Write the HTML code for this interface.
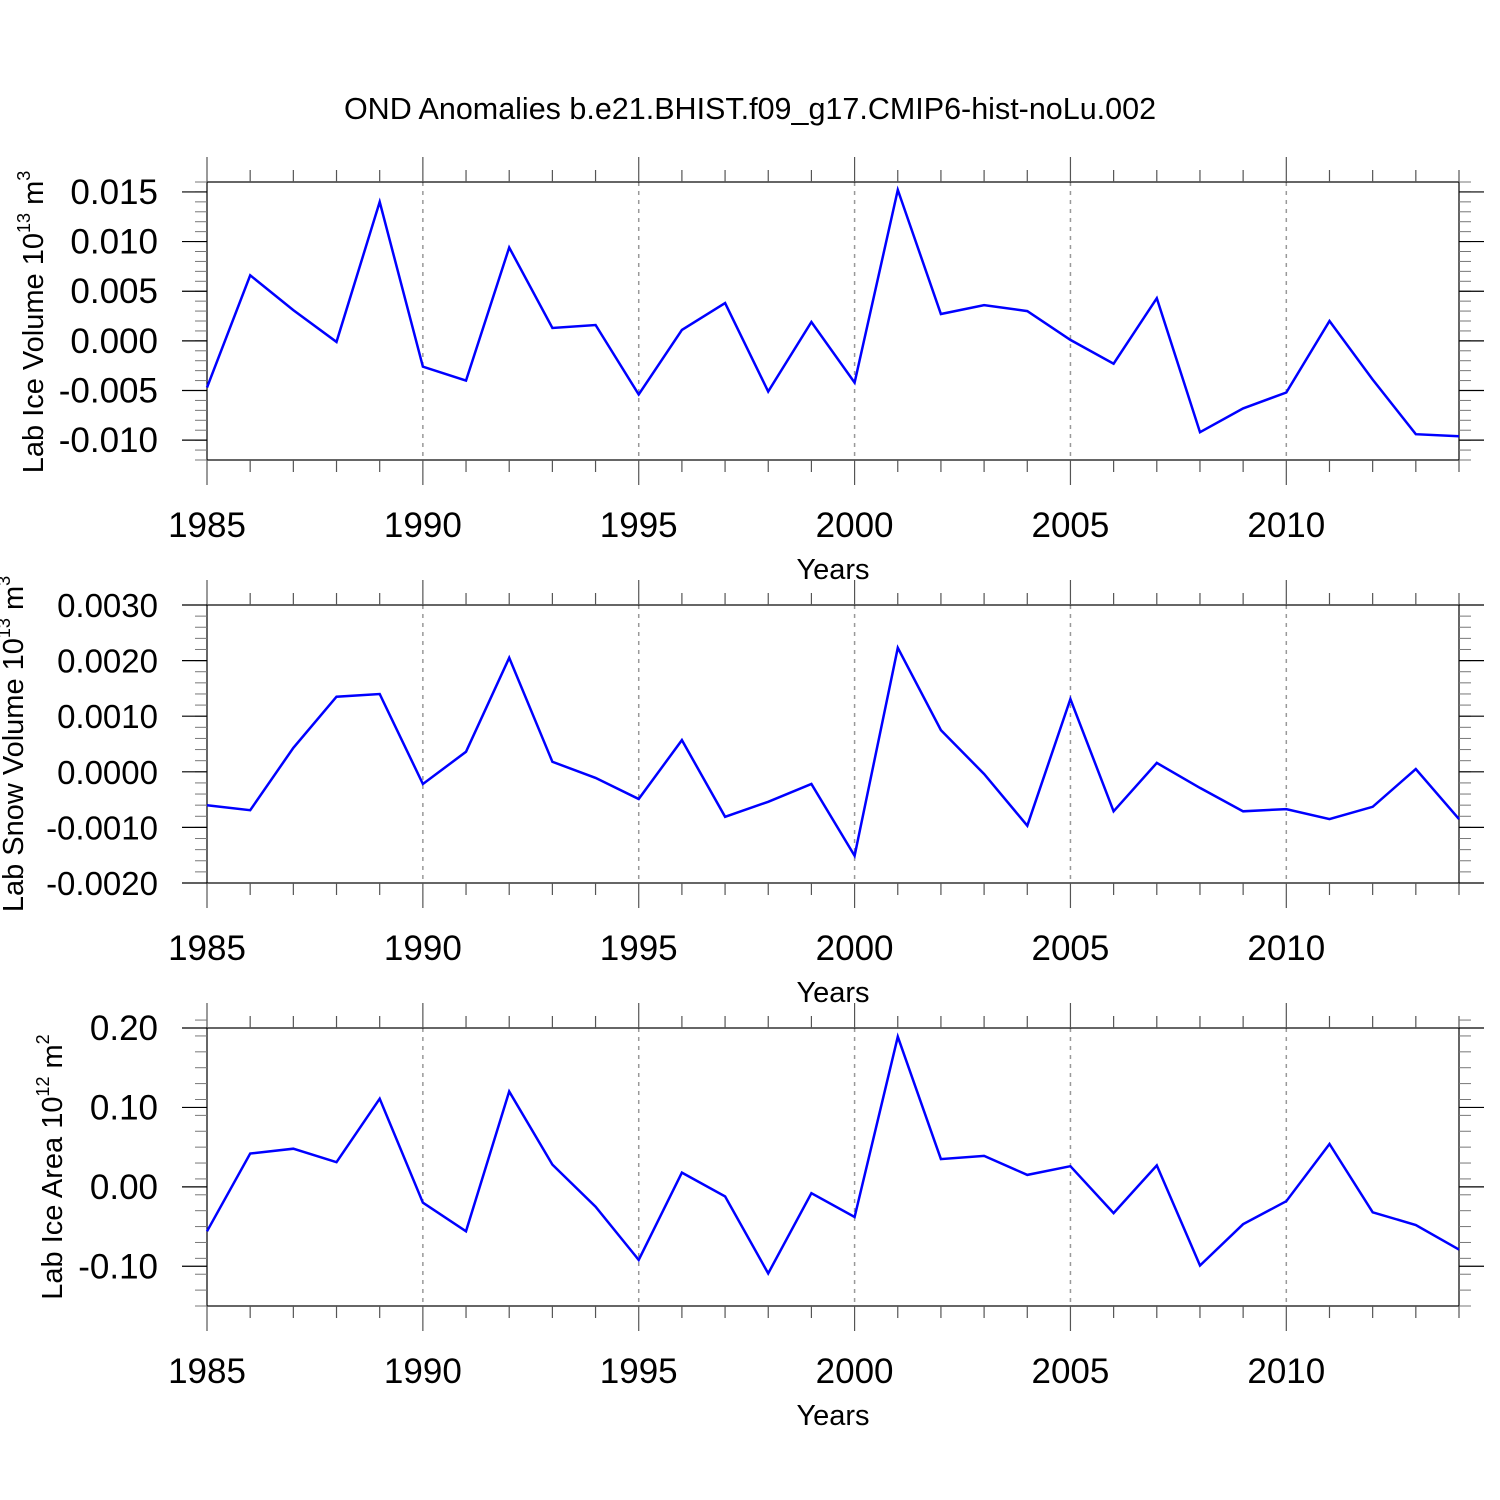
<!DOCTYPE html>
<html><head><meta charset="utf-8"><style>
html,body{margin:0;padding:0;background:#fff;}
svg{display:block;font-family:"Liberation Sans",sans-serif;}
</style></head><body>
<svg id="chart" width="1500" height="1500" viewBox="0 0 1500 1500" xmlns="http://www.w3.org/2000/svg">
<text x="750" y="119" font-size="30.5" text-anchor="middle">OND Anomalies b.e21.BHIST.f09_g17.CMIP6-hist-noLu.002</text>
</svg>
<script>
const years = [1985,1986,1987,1988,1989,1990,1991,1992,1993,1994,1995,1996,1997,1998,1999,2000,2001,2002,2003,2004,2005,2006,2007,2008,2009,2010,2011,2012,2013,2014];
const iceVolume = [-0.0047,0.0066,0.0031,-0.0001,0.0140,-0.0026,-0.0040,0.0094,0.0013,0.0016,-0.0054,0.0011,0.0038,-0.0051,0.0019,-0.0042,0.0152,0.0027,0.0036,0.0030,0.0001,-0.0023,0.0043,-0.0092,-0.0068,-0.0052,0.0020,-0.0039,-0.0094,-0.0096];
const snowVolume = [-0.00060,-0.00069,0.00043,0.00135,0.00140,-0.00022,0.00036,0.00205,0.00018,-0.00011,-0.00049,0.00057,-0.00081,-0.00054,-0.00022,-0.00151,0.00223,0.00075,-0.00004,-0.00097,0.00131,-0.00071,0.00016,-0.00029,-0.00071,-0.00067,-0.00085,-0.00063,0.00005,-0.00085];
const iceArea = [-0.056,0.042,0.048,0.031,0.111,-0.020,-0.056,0.120,0.028,-0.025,-0.092,0.018,-0.012,-0.109,-0.008,-0.038,0.189,0.035,0.039,0.015,0.026,-0.033,0.027,-0.099,-0.047,-0.018,0.054,-0.032,-0.048,-0.079];
const xTickYears = [1985,1990,1995,2000,2005,2010];
const iceVolTicks = [0.015,0.010,0.005,0.000,-0.005,-0.010];
const iceVolLabels = ["0.015","0.010","0.005","0.000","-0.005","-0.010"];
const snowTicks = [0.003,0.002,0.001,0.000,-0.001,-0.002];
const snowLabels = ["0.0030","0.0020","0.0010","0.0000","-0.0010","-0.0020"];
const areaTicks = [0.2,0.1,0.0,-0.1];
const areaLabels = ["0.20","0.10","0.00","-0.10"];

const NS="http://www.w3.org/2000/svg";
const svg=document.getElementById('chart');
const X0=207,X1=1459,Y0=1985,Y1=2014;
const xs=v=>X0+(v-Y0)/(Y1-Y0)*(X1-X0);
function mk(tag,attrs,parent){const e=document.createElementNS(NS,tag);for(const k in attrs)e.setAttribute(k,attrs[k]);(parent||svg).appendChild(e);return e;}

function panel(name,top,ymin,ymax,minorStep,ticks,labels,data,titleParts,titleCy,titleX,labelSize){
  const bot=top+278;
  const g=mk('g',{});
  
  
  const ys=v=>bot-(v-ymin)/(ymax-ymin)*(bot-top);
  xTickYears.forEach(y=>{if(y>Y0){const l=mk('line',{x1:xs(y),x2:xs(y),y1:top,y2:bot,stroke:'#999','stroke-width':1.5,'stroke-dasharray':'4,5'},g);
    
    }});
  const fr=mk('rect',{x:X0,y:top,width:X1-X0,height:bot-top,fill:'none',stroke:'#000','stroke-width':1.2},g);
  
  
  years.forEach(y=>{const major=y%5===0;const L=major?25:12;const x=xs(y);
    mk('line',{x1:x,x2:x,y1:top,y2:top-L,stroke:'#555','stroke-width':1.2},g);
    mk('line',{x1:x,x2:x,y1:bot,y2:bot+L,stroke:'#555','stroke-width':1.2},g);});
  xTickYears.forEach(y=>{const t=mk('text',{x:xs(y),y:bot+77,'font-size':35,'text-anchor':'middle'},g);t.textContent=y;
    
    });
  const xt=mk('text',{x:833,y:bot+119,'font-size':29,'text-anchor':'middle'},g);xt.textContent='Years';
  
  
  const n=Math.round((ymax-ymin)/minorStep);
  for(let i=0;i<=n;i++){const v=ymin+i*minorStep;const y=ys(v);
    mk('line',{x1:X0,x2:X0-12,y1:y,y2:y,stroke:'#777','stroke-width':1},g);
    mk('line',{x1:X1,x2:X1+12,y1:y,y2:y,stroke:'#777','stroke-width':1},g);}
  ticks.forEach((v,i)=>{const y=ys(v);
    mk('line',{x1:X0,x2:X0-25,y1:y,y2:y,stroke:'#000','stroke-width':1.2},g);
    mk('line',{x1:X1,x2:X1+25,y1:y,y2:y,stroke:'#000','stroke-width':1.2},g);
    const t=mk('text',{x:158,y:y+12,'font-size':labelSize,'text-anchor':'end'},g);t.textContent=labels[i];
    
    });
  const yt=mk('text',{x:0,y:0,'font-size':29,'text-anchor':'middle',transform:`translate(${titleX},${titleCy}) rotate(-90)`},g);
  
  
  yt.appendChild(document.createTextNode(titleParts[0]+' 10'));
  const s1=mk('tspan',{'font-size':18,dy:-13},yt);s1.textContent=titleParts[1];
  const s2=mk('tspan',{dy:13},yt);s2.textContent=' m';
  const s3=mk('tspan',{'font-size':18,dy:-13},yt);s3.textContent=titleParts[2];
  const pts=data.map((v,i)=>xs(years[i]).toFixed(1)+','+ys(v).toFixed(1)).join(' ');
  const pl=mk('polyline',{points:pts,fill:'none',stroke:'#0000ff','stroke-width':2.5,'stroke-linejoin':'miter'},g);
  
  
}
panel('ice-volume',182,-0.012,0.016,0.001,iceVolTicks,iceVolLabels,iceVolume,['Lab Ice Volume','13','3'],322,43,35);
panel('snow-volume',605,-0.002,0.003,0.0002,snowTicks,snowLabels,snowVolume,['Lab Snow Volume','13','3'],744,23,33);
panel('ice-area',1028,-0.15,0.20,0.02,areaTicks,areaLabels,iceArea,['Lab Ice Area','12','2'],1167,62,35);
</script>
</body></html>
